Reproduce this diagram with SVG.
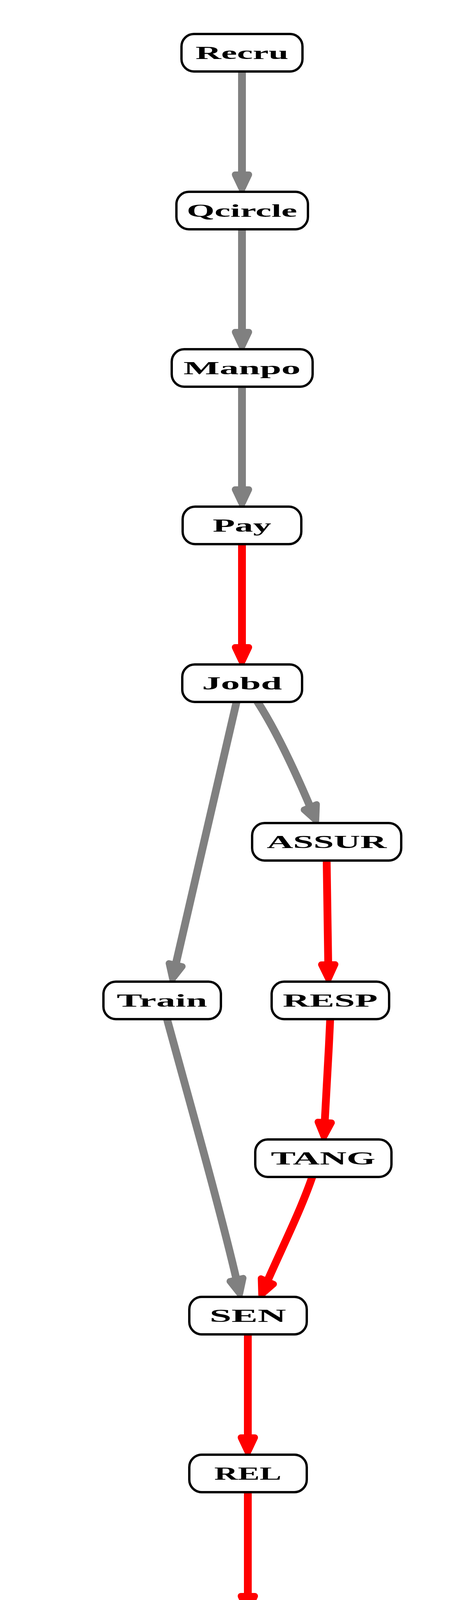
<svg xmlns="http://www.w3.org/2000/svg" width="1153" height="4918" viewBox="0 0 1153 4918">
<style>
.n rect{fill:#fff;stroke:#000;stroke-width:6}
.n text{font-family:"Liberation Serif","Times New Roman",serif;font-weight:bold;font-size:46px;text-anchor:middle;fill:#000}
.g{fill:none;stroke:#808080;stroke-width:20;stroke-linecap:round}
.r{fill:none;stroke:#ff0000;stroke-width:20;stroke-linecap:round}
</style>
<defs>
<marker id="ag" markerUnits="userSpaceOnUse" markerWidth="80" markerHeight="80" viewBox="-20 -40 80 80" refX="0" refY="0" orient="auto" overflow="visible"><path d="M0,-18 L38,0 L0,18 Z" fill="#808080" stroke="#808080" stroke-width="16" stroke-linejoin="round"/></marker>
<marker id="ar" markerUnits="userSpaceOnUse" markerWidth="80" markerHeight="80" viewBox="-20 -40 80 80" refX="0" refY="0" orient="auto" overflow="visible"><path d="M0,-18 L38,0 L0,18 Z" fill="#ff0000" stroke="#ff0000" stroke-width="16" stroke-linejoin="round"/></marker>
</defs>
<rect width="1153" height="4918" fill="#fff"/>
<g id="edges">
<path class="g" marker-end="url(#ag)" d="M620,183 L620,447"/>
<path class="g" marker-end="url(#ag)" d="M620,587 L620,850"/>
<path class="g" marker-end="url(#ag)" d="M620,990 L620,1253"/>
<path class="r" marker-end="url(#ar)" d="M620,1393 L620,1657"/>
<path class="g" marker-end="url(#ag)" d="M660,1797 Q720,1890 795,2066"/>
<path class="g" marker-end="url(#ag)" d="M606,1797 C560,2000 500,2250 450,2470"/>
<path class="r" marker-end="url(#ar)" d="M837,2203 L841,2469"/>
<path class="r" marker-end="url(#ar)" d="M846,2609 C842,2700 836,2800 832,2873"/>
<path class="r" marker-end="url(#ar)" d="M800,3013 C770,3100 720,3200 685,3280"/>
<path class="g" marker-end="url(#ag)" d="M428,2609 C480,2800 560,3080 606,3276"/>
<path class="r" marker-end="url(#ar)" d="M635,3416 L635,3680"/>
<path class="r" marker-end="url(#ar)" d="M635,3820 L635,4086"/>
<path class="g" marker-end="url(#ag)" d="M241,4226 L380,4494"/>
<path class="g" marker-end="url(#ag)" d="M608,4226 L475,4494"/>
</g>
<g id="Recru" class="n"><rect x="465" y="87" width="310" height="96" rx="32"/><text x="620" y="151" textLength="238" lengthAdjust="spacingAndGlyphs">Recru</text></g>
<g id="Qcircle" class="n"><rect x="452" y="491" width="337" height="96" rx="32"/><text x="620" y="555" textLength="283" lengthAdjust="spacingAndGlyphs">Qcircle</text></g>
<g id="Manpo" class="n"><rect x="440" y="894" width="361" height="96" rx="32"/><text x="620" y="958" textLength="300" lengthAdjust="spacingAndGlyphs">Manpo</text></g>
<g id="Pay" class="n"><rect x="468" y="1297" width="304" height="96" rx="32"/><text x="620" y="1361" textLength="150" lengthAdjust="spacingAndGlyphs">Pay</text></g>
<g id="Jobd" class="n"><rect x="467" y="1701" width="307" height="96" rx="32"/><text x="620" y="1765" textLength="205" lengthAdjust="spacingAndGlyphs">Jobd</text></g>
<g id="ASSUR" class="n"><rect x="646" y="2107" width="382" height="96" rx="32"/><text x="837" y="2171" textLength="307" lengthAdjust="spacingAndGlyphs">ASSUR</text></g>
<g id="Train" class="n"><rect x="265" y="2513" width="301" height="96" rx="32"/><text x="415" y="2577" textLength="232" lengthAdjust="spacingAndGlyphs">Train</text></g>
<g id="RESP" class="n"><rect x="696" y="2513" width="301" height="96" rx="32"/><text x="846" y="2577" textLength="243" lengthAdjust="spacingAndGlyphs">RESP</text></g>
<g id="TANG" class="n"><rect x="654" y="2917" width="349" height="96" rx="32"/><text x="828" y="2981" textLength="268" lengthAdjust="spacingAndGlyphs">TANG</text></g>
<g id="SEN" class="n"><rect x="485" y="3320" width="301" height="96" rx="32"/><text x="635" y="3384" textLength="196" lengthAdjust="spacingAndGlyphs">SEN</text></g>
<g id="REL" class="n"><rect x="485" y="3724" width="301" height="96" rx="32"/><text x="635" y="3788" textLength="172" lengthAdjust="spacingAndGlyphs">REL</text></g>
<g id="SAT" class="n"><rect x="61" y="4130" width="301" height="96" rx="32"/><text x="211" y="4194" textLength="184" lengthAdjust="spacingAndGlyphs">SAT</text></g>
<g id="EMP" class="n"><rect x="485" y="4130" width="301" height="96" rx="32"/><text x="635" y="4194" textLength="221" lengthAdjust="spacingAndGlyphs">EMP</text></g>
<g id="PERFO" class="n"><rect x="235" y="4533" width="379" height="96" rx="32"/><text x="424" y="4597" textLength="327" lengthAdjust="spacingAndGlyphs">PERFO</text></g>
</svg>
